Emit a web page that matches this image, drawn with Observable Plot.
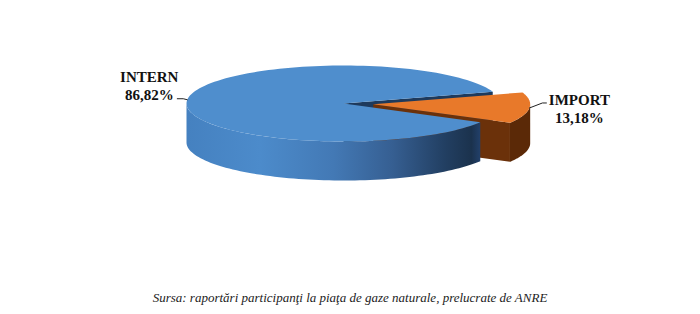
<!DOCTYPE html>
<html><head><meta charset="utf-8">
<script src="https://cdn.jsdelivr.net/npm/d3@7"></script>
<script src="https://cdn.jsdelivr.net/npm/@observablehq/plot@0.6"></script>
<style>
body{margin:0;background:#fff;}
#caption{font-family:"Liberation Serif","Times New Roman",Times,"DejaVu Serif",serif;font-style:italic;font-size:13px;text-align:center;width:700px;line-height:20px;color:#222;}
</style>
</head><body><div id="chart"></div><div id="caption"></div>
<script>
// ---- data ----
const categories = ["INTERN", "IMPORT"];
const shares = [86.82, 13.18];
const valueLabels = ["86,82%", "13,18%"];
const exploded = [0, 0.19];
const sourceNote = "Sursa: raportări participanţi la piaţa de gaze naturale, prelucrate de ANRE";

// ---- styles / layout ----
const serif = "'Liberation Serif', 'Times New Roman', Times, 'DejaVu Serif', serif";
const topColors = ["#4F8ECD", "#E8792A"];
const wallColors = ["#1E3A5C", "#6B310A"];
const sideColors = ["url(#sideGradIntern)", "#5B2907"];
const sideStops = ["#4581C0", "#4C8BCB", "#4379B5", "#365F92", "#223F62", "#1B324D", "#22406A"];
const sideStopAt = [0, 0.25, 0.5, 0.7, 0.88, 0.97, 1];
const W = 700, H = 288, PX = 157, CX = 343, CY = 103;
const tilt = 38 / PX, depth = 39 / PX;
const rot = 29.4 * Math.PI / 180;
const labelNudge = [{a: [-4, -1], b: -6, t: [-28, -13.8]}, {a: [13, -5], b: 4, t: [33, 5.3]}];

const arcs = d3.pie().sort(null).startAngle(rot).endAngle(rot + 2 * Math.PI)(shares);
const slices = arcs.map((a, i) => {
  const mid = (a.startAngle + a.endAngle) / 2;
  const off = [exploded[i] * Math.cos(mid), exploded[i] * tilt * Math.sin(mid)];
  return {i, a0: a.startAngle, a1: a.endAngle, mid, off};
});
const rimPt = (s, t, drop = 0) => [s.off[0] + Math.cos(t), s.off[1] + tilt * Math.sin(t) + drop];
const ctrPt = (s, drop = 0) => [s.off[0], s.off[1] + drop];
function samples(a, b, n) { const out = []; for (let k = 0; k <= n; k++) out.push(a + (b - a) * k / n); return out; }
function frontRanges(a, b) {
  const r = [];
  for (let k = -1; k <= 2; k++) {
    const lo = Math.max(a, k * 2 * Math.PI), hi = Math.min(b, k * 2 * Math.PI + Math.PI);
    if (hi > lo) r.push([lo, hi]);
  }
  return r;
}

const polys = [];
let pid = 0;
function addPoly(pts, fill, layer) {
  const id = pid++;
  pts.forEach(p => polys.push({id, x: p[0], y: p[1], fill, layer}));
}
function sliceWalls(s, layer) {
  if (Math.cos(s.a1) > 0) addPoly([ctrPt(s), rimPt(s, s.a1), rimPt(s, s.a1, depth), ctrPt(s, depth)], wallColors[s.i], layer);
  if (Math.cos(s.a0) < 0) addPoly([ctrPt(s), rimPt(s, s.a0), rimPt(s, s.a0, depth), ctrPt(s, depth)], wallColors[s.i], layer);
}
function sliceSide(s, layer) {
  frontRanges(s.a0, s.a1).forEach(([lo, hi]) => {
    const ts = samples(lo, hi, 80);
    addPoly([...ts.map(t => rimPt(s, t)), ...ts.slice().reverse().map(t => rimPt(s, t, depth))], sideColors[s.i], layer);
  });
}
function sliceTop(s, layer) {
  addPoly([ctrPt(s), ...samples(s.a0, s.a1, 140).map(t => rimPt(s, t)), ctrPt(s)], topColors[s.i], layer);
}
const [sIn, sIm] = slices;
sliceWalls(sIn, 0);
sliceWalls(sIm, 0);
sliceSide(sIm, 0);
sliceTop(sIm, 1);
sliceSide(sIn, 2);
sliceTop(sIn, 3);

// labels and leaders
const leaders = [], labels = [];
slices.forEach((s, i) => {
  const n = labelNudge[i];
  const p0 = rimPt(s, s.mid);
  const p1 = [p0[0] + n.a[0] / PX, p0[1] + n.a[1] / PX];
  const p2 = [p1[0] + n.b / PX, p1[1]];
  [p0, p1, p2].forEach(p => leaders.push({id: i, x: p[0], y: p[1]}));
  labels.push({x: p2[0] + n.t[0] / PX, y: p2[1] + n.t[1] / PX, text: categories[i] + "\n" + valueLabels[i]});
});

const gradientDefs = () => {
  const defs = d3.create("svg:defs");
  const g = defs.append("linearGradient").attr("id", "sideGradIntern")
    .attr("x1", 0).attr("x2", 1).attr("y1", 0).attr("y2", 0);
  sideStops.forEach((c, k) => g.append("stop").attr("offset", sideStopAt[k]).attr("stop-color", c));
  return defs.node();
};

const layerMarks = [0, 1, 2, 3].map(L => Plot.line(polys.filter(d => d.layer === L), {
  x: "x", y: "y", z: "id", fill: "fill", stroke: null, curve: "linear"
}));

const chart = Plot.plot({
  width: W, height: H,
  marginTop: 0, marginRight: 0, marginBottom: 0, marginLeft: 0,
  x: {domain: [-CX / PX, (W - CX) / PX], range: [0, W], axis: null},
  y: {domain: [-CY / PX, (H - CY) / PX], range: [0, H], axis: null},
  color: {type: "identity"},
  style: {background: "#fff"},
  marks: [
    gradientDefs,
    ...layerMarks,
    Plot.line(leaders, {x: "x", y: "y", z: "id", stroke: "#222", strokeWidth: 1, curve: "linear"}),
    Plot.text(labels, {x: "x", y: "y", text: "text", textAnchor: "middle", lineAnchor: "middle", lineHeight: 1.2,
      fontFamily: serif, fontWeight: "bold", fontSize: 15, fill: "#111"})
  ]
});
document.getElementById("chart").appendChild(chart);
document.getElementById("caption").textContent = sourceNote;
</script>
</body></html>
